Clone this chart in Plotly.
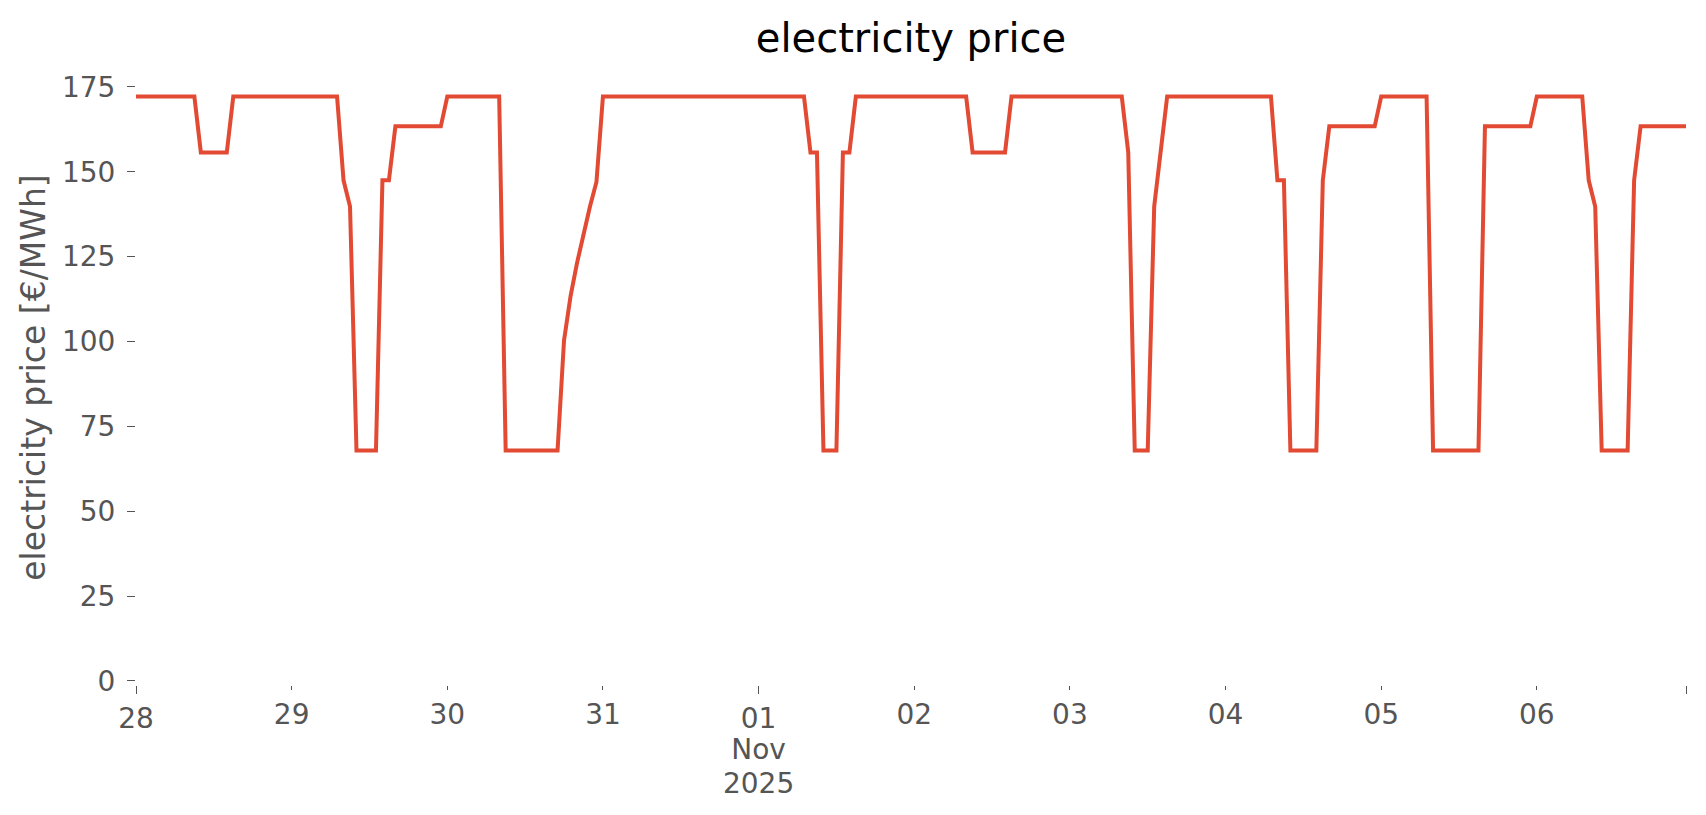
import pandas as pd
import plotly.graph_objects as go

# hourly electricity price [€/MWh], one list per day (00:00 .. 23:00)
oct28 = [172.2, 172.2, 172.2, 172.2, 172.2, 172.2, 172.2, 172.2, 172.2, 172.2, 155.7, 155.7,
         155.7, 155.7, 155.7, 172.2, 172.2, 172.2, 172.2, 172.2, 172.2, 172.2, 172.2, 172.2]
oct29 = [172.2, 172.2, 172.2, 172.2, 172.2, 172.2, 172.2, 172.2, 147.5, 139.8, 67.9, 67.9,
         67.9, 67.9, 147.5, 147.5, 163.4, 163.4, 163.4, 163.4, 163.4, 163.4, 163.4, 163.4]
oct30 = [172.2, 172.2, 172.2, 172.2, 172.2, 172.2, 172.2, 172.2, 172.2, 67.9, 67.9, 67.9,
         67.9, 67.9, 67.9, 67.9, 67.9, 67.9, 100.3, 113.3, 123.1, 132.0, 139.8, 147.0]
oct31 = [172.2, 172.2, 172.2, 172.2, 172.2, 172.2, 172.2, 172.2, 172.2, 172.2, 172.2, 172.2,
         172.2, 172.2, 172.2, 172.2, 172.2, 172.2, 172.2, 172.2, 172.2, 172.2, 172.2, 172.2]
nov01 = [172.2, 172.2, 172.2, 172.2, 172.2, 172.2, 172.2, 172.2, 155.7, 155.7, 67.9, 67.9,
         67.9, 155.7, 155.7, 172.2, 172.2, 172.2, 172.2, 172.2, 172.2, 172.2, 172.2, 172.2]
nov02 = [172.2, 172.2, 172.2, 172.2, 172.2, 172.2, 172.2, 172.2, 172.2, 155.7, 155.7, 155.7,
         155.7, 155.7, 155.7, 172.2, 172.2, 172.2, 172.2, 172.2, 172.2, 172.2, 172.2, 172.2]
nov03 = [172.2, 172.2, 172.2, 172.2, 172.2, 172.2, 172.2, 172.2, 172.2, 155.7, 67.9, 67.9,
         67.9, 139.8, 155.7, 172.2, 172.2, 172.2, 172.2, 172.2, 172.2, 172.2, 172.2, 172.2]
nov04 = [172.2, 172.2, 172.2, 172.2, 172.2, 172.2, 172.2, 172.2, 147.5, 147.5, 67.9, 67.9,
         67.9, 67.9, 67.9, 147.5, 163.4, 163.4, 163.4, 163.4, 163.4, 163.4, 163.4, 163.4]
nov05 = [172.2, 172.2, 172.2, 172.2, 172.2, 172.2, 172.2, 172.2, 67.9, 67.9, 67.9, 67.9,
         67.9, 67.9, 67.9, 67.9, 163.4, 163.4, 163.4, 163.4, 163.4, 163.4, 163.4, 163.4]
nov06 = [172.2, 172.2, 172.2, 172.2, 172.2, 172.2, 172.2, 172.2, 147.5, 139.8, 67.9, 67.9,
         67.9, 67.9, 67.9, 147.5, 163.4, 163.4, 163.4, 163.4, 163.4, 163.4, 163.4, 163.4]

prices = oct28 + oct29 + oct30 + oct31 + nov01 + nov02 + nov03 + nov04 + nov05 + nov06
times = pd.date_range("2025-10-28 00:00", periods=len(prices), freq="h")

# tick labels
minor_days = ["2025-10-29", "2025-10-30", "2025-10-31", "2025-11-02", "2025-11-03",
              "2025-11-04", "2025-11-05", "2025-11-06"]
minor_labels = ["29", "30", "31", "02", "03", "04", "05", "06"]
major_days = ["2025-10-28", "2025-11-01", "2025-11-06 23:00"]
major_labels = ["28", "01", ""]
month_day = ["2025-11-01"]
month_label = ["Nov"]
year_label = ["2025"]
y_ticks = [0, 25, 50, 75, 100, 125, 150, 175]

GREY = "#555555"
FONT = "DejaVu Sans"
x_range = [times[0], times[-1]]

# the page body adds an 8px margin, so the figure is sized/offset to compensate
W, H = 1698, 807

fig = go.Figure()
fig.add_trace(go.Scatter(x=times, y=prices, mode="lines",
                         line=dict(color="#E24A33", width=4), showlegend=False))
for ax in ["x2", "x3", "x4"]:
    fig.add_trace(go.Scatter(x=times, y=prices, mode="lines", xaxis=ax,
                             line=dict(color="rgba(0,0,0,0)", width=0), opacity=0,
                             showlegend=False, hoverinfo="skip"))

common_x = dict(type="date", range=x_range, showgrid=False, zeroline=False, showline=False,
                automargin=False, ticks="outside", tickcolor=GREY, tickwidth=1.3,
                tickfont=dict(family=FONT, size=28, color=GREY))
over = dict(overlaying="x", anchor="y", side="bottom", tickmode="array")

fig.update_layout(
    width=W, height=H,
    paper_bgcolor="white", plot_bgcolor="white",
    margin=dict(l=128, r=20, t=62, b=130),
    font=dict(family=FONT, color=GREY),
    title=dict(text="electricity price", x=0.5, xref="paper", xanchor="center",
               y=1 - 30 / H, yref="container", yanchor="middle",
               font=dict(family=FONT, size=40, color="black")),
    xaxis=dict(**common_x, tickmode="array", tickvals=minor_days, ticktext=minor_labels,
               ticklen=4),
    xaxis2=dict(**common_x, **over, tickvals=major_days, ticktext=major_labels, ticklen=8),
    xaxis3=dict(**{**common_x, "tickcolor": "rgba(0,0,0,0)"}, **over,
                tickvals=month_day, ticktext=month_label, ticklen=39),
    xaxis4=dict(**{**common_x, "tickcolor": "rgba(0,0,0,0)"}, **over,
                tickvals=month_day, ticktext=year_label, ticklen=73),
    yaxis=dict(range=[-1.2, 180], showgrid=False, zeroline=False, showline=False,
               automargin=False,
               tickmode="array", tickvals=y_ticks, ticks="outside", ticklen=8,
               tickcolor=GREY, tickwidth=1.3, ticklabelstandoff=6,
               tickfont=dict(family=FONT, size=28, color=GREY),
               title=dict(text="electricity price [€/MWh]", standoff=6,
                          font=dict(family=FONT, size=33, color=GREY))),
)

fig.write_html("out.html")
